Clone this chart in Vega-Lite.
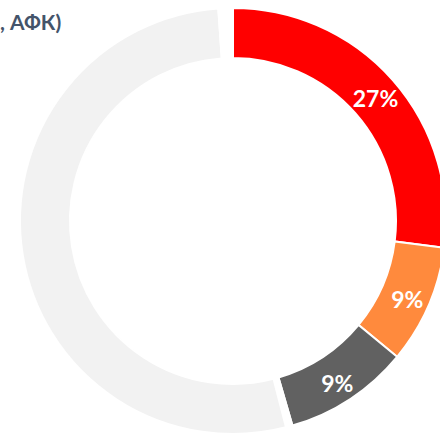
{
  "$schema": "https://vega.github.io/schema/vega-lite/v6.json",
  "width": 466,
  "height": 442,
  "autosize": {"type": "none"},
  "padding": 0,
  "background": "white",
  "view": {"stroke": null},
  "title": {
    "text": ", АФК)",
    "anchor": "start",
    "frame": "group",
    "orient": "top",
    "font": "Lato",
    "fontSize": 21,
    "fontWeight": "bold",
    "color": "#44546A",
    "dx": 0,
    "dy": 38
  },
  "data": {
    "values": [
      {"seg": "A", "value": 27, "k": 1, "label": "27%"},
      {"seg": "B", "value": 9, "k": 2, "label": "9%"},
      {"seg": "C", "value": 9.5, "k": 3, "label": "9%"},
      {"seg": "gap1", "value": 0.5, "k": 4, "label": ""},
      {"seg": "D", "value": 52.9, "k": 5, "label": ""},
      {"seg": "gap2", "value": 1.1, "k": 6, "label": ""}
    ]
  },
  "encoding": {
    "theta": {"field": "value", "type": "quantitative", "stack": true},
    "order": {"field": "k", "type": "quantitative"}
  },
  "layer": [
    {
      "mark": {"type": "arc", "radius": 213, "radius2": 163, "stroke": "white", "strokeWidth": 2},
      "encoding": {
        "color": {
          "field": "seg",
          "type": "nominal",
          "scale": {
            "domain": ["A", "B", "C", "gap1", "D", "gap2"],
            "range": ["#FF0000", "#FF8A3D", "#616161", "#FFFFFF", "#F2F2F2", "#FFFFFF"]
          },
          "legend": null
        }
      }
    },
    {
      "mark": {"type": "text", "radius": 190, "dy": 5, "font": "Lato", "fontSize": 23, "fontWeight": "bold", "color": "white"},
      "encoding": {
        "text": {"field": "label", "type": "nominal"}
      }
    }
  ]
}
